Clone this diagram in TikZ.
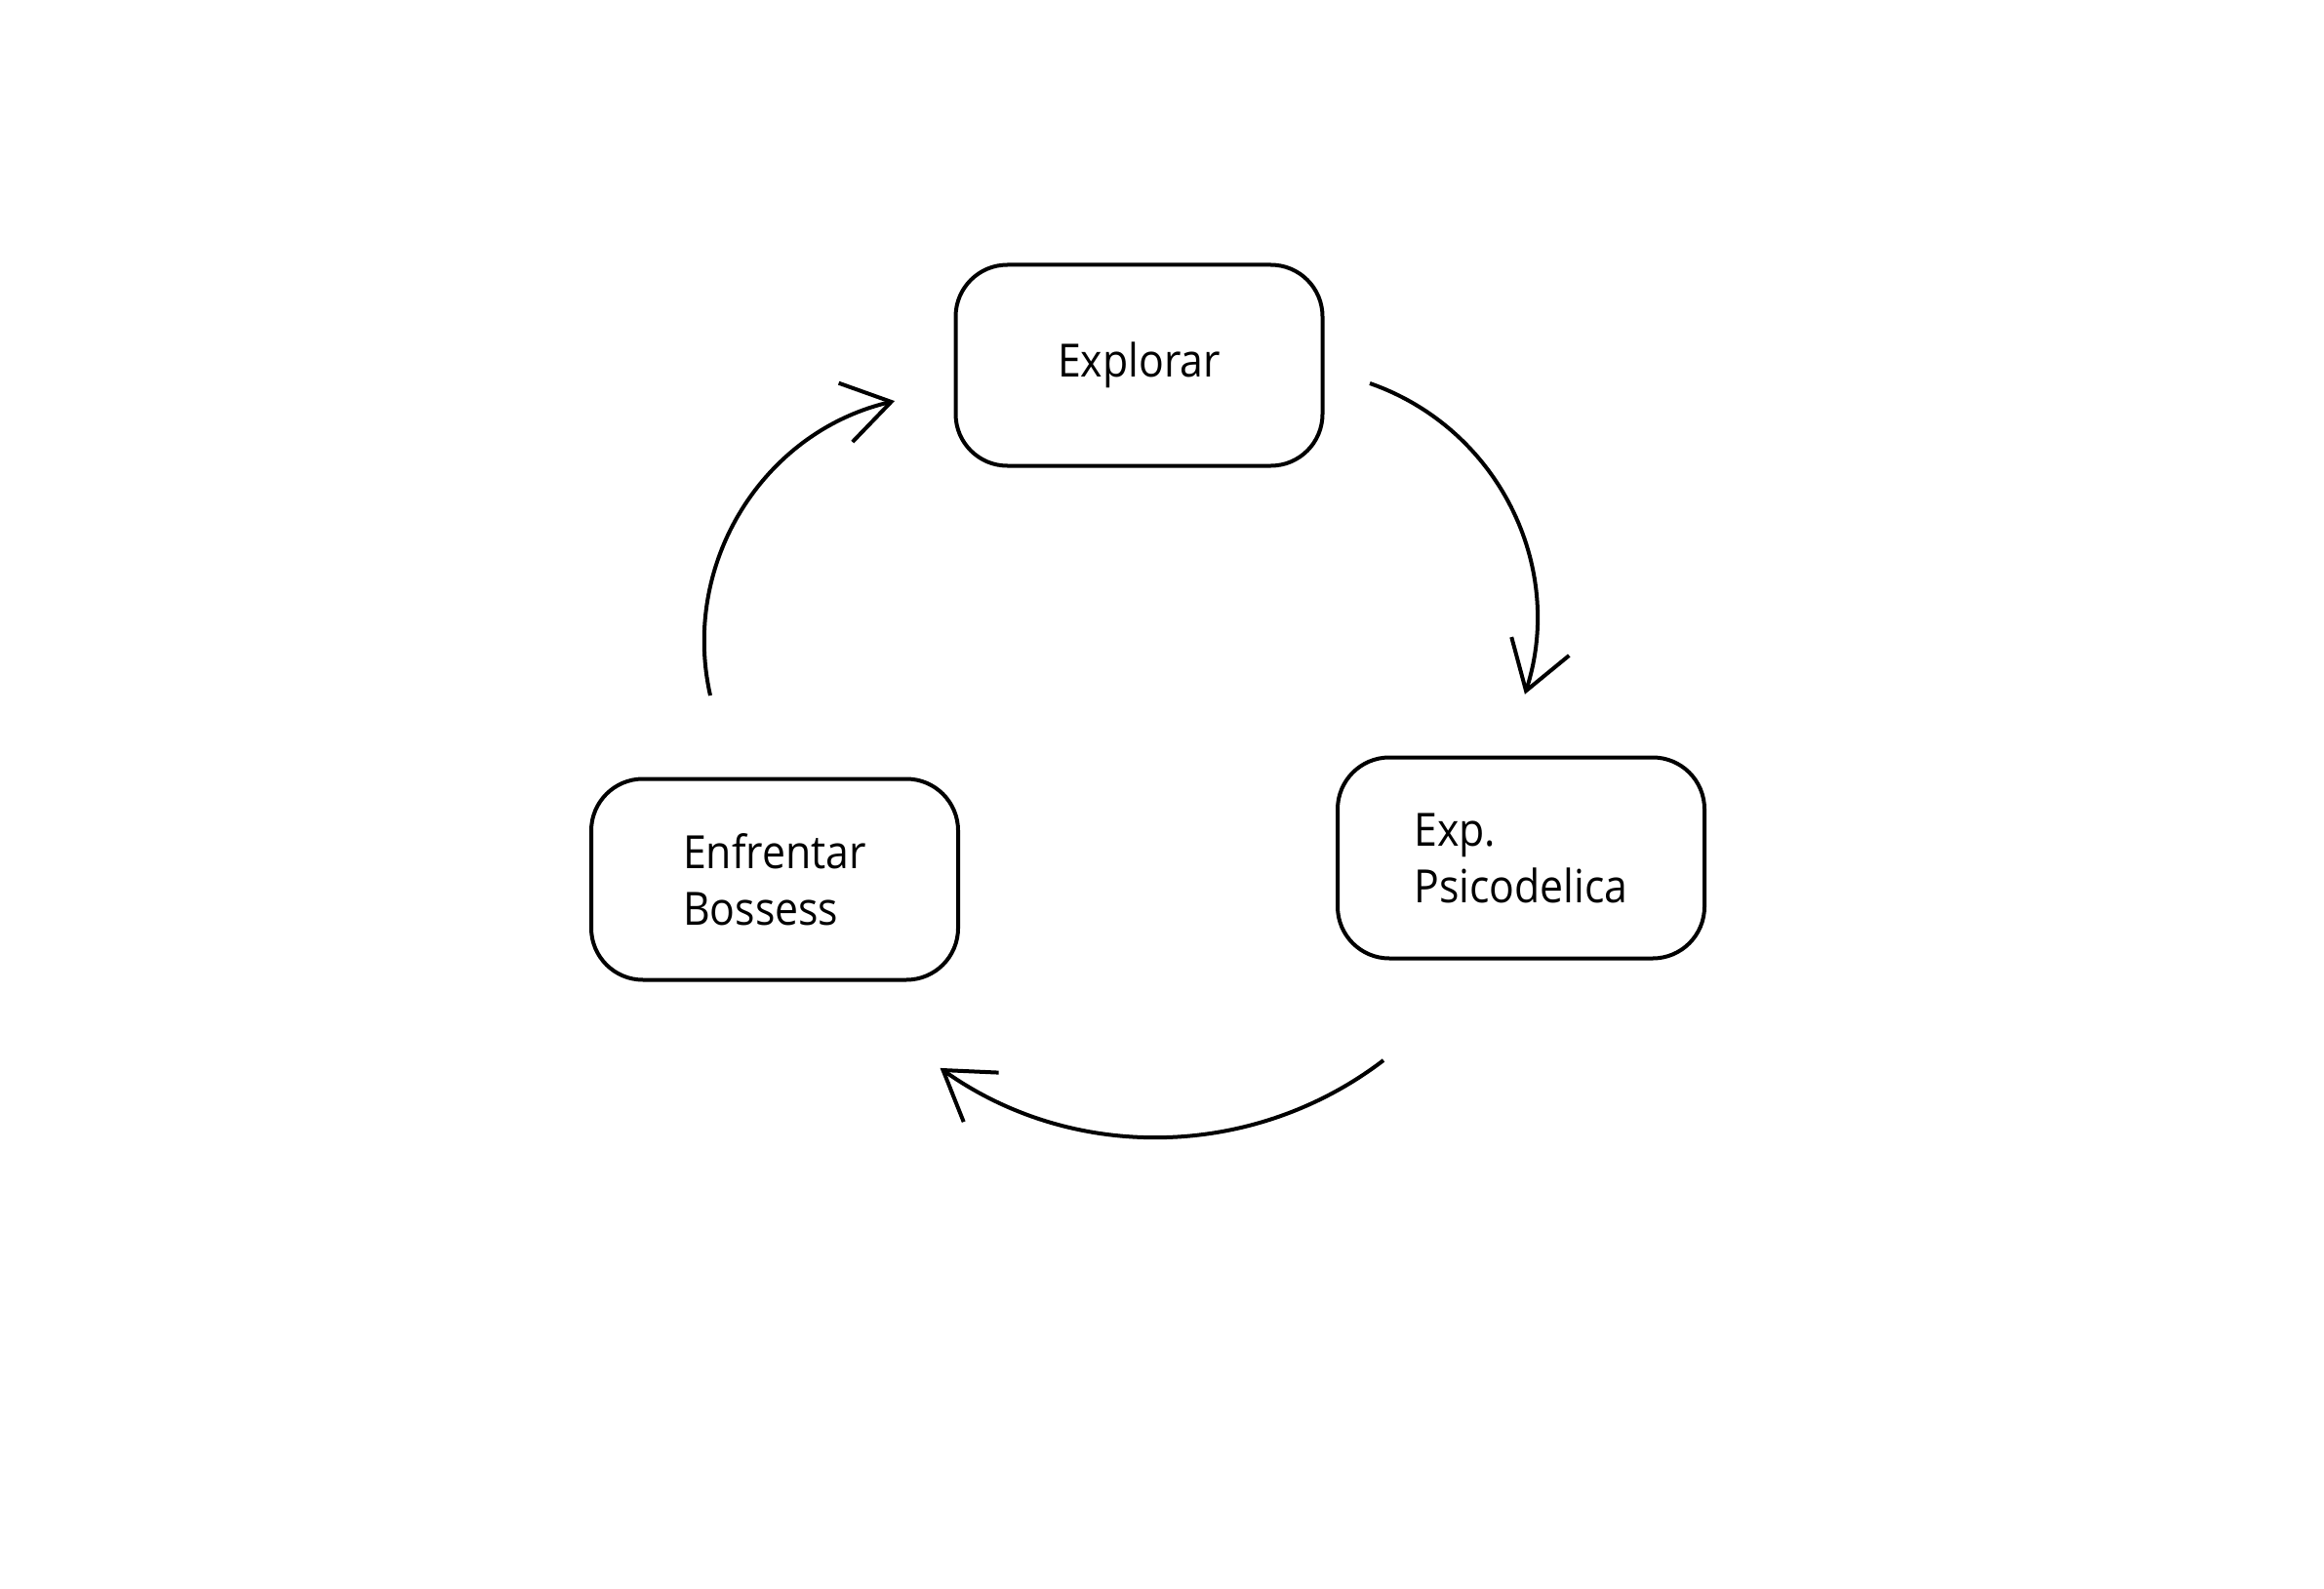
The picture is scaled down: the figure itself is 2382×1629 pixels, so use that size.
\documentclass[tikz,border=0pt]{standalone}
\usepackage{fontspec}
\setmainfont{Open Sans}[FakeStretch=0.91]
\usetikzlibrary{arrows.meta}
\begin{document}
\begin{tikzpicture}[x=1pt,y=-1pt,
  stepbox/.style={draw, line width=4pt, rounded corners=53pt, minimum width=376pt,
    minimum height=206pt, align=left, inner sep=0pt,
    font=\fontsize{47}{58}\selectfont},
  cyc/.style={line width=4pt, -{Straight Barb[length=48pt,width=62pt]}}]
\useasboundingbox (0,0) rectangle (2382,1629);
\fill[white] (0,0) rectangle (2382,1629);
\node[stepbox] (explorar) at (1167.5,374.5) {Explorar};
\node[stepbox] (psico) at (1559,879.5) {Exp.\\Psicodelica};
\node[stepbox] (boss) at (794,901.5) {Enfrentar\\Bossess};
\coordinate (a1s) at (1404,393);
\coordinate (a2s) at (1418,1087);
\coordinate (a3s) at (728,713);
\draw[cyc] (a1s) arc[start angle=-70.8, end angle=17.8, radius=255];
\draw[cyc] (a2s) arc[start angle=52.6, end angle=125.4, radius=383];
\draw[cyc] (a3s) arc[start angle=167.3, end angle=256.8, radius=253];
\end{tikzpicture}
\end{document}
